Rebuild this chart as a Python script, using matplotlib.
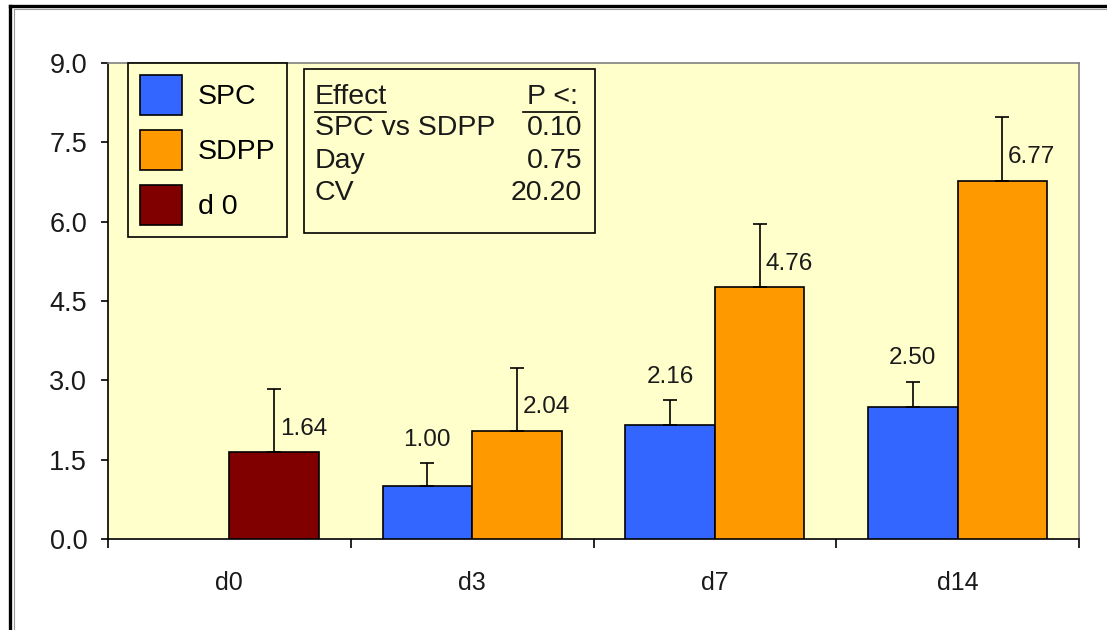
import numpy as np
import matplotlib
matplotlib.use("Agg")
import matplotlib.pyplot as plt
from matplotlib.patches import Rectangle
from matplotlib.lines import Line2D

plt.rcParams['font.family'] = ['Liberation Sans', 'DejaVu Sans']

# ---- data -------------------------------------------------------------
categories = ['d0', 'd3', 'd7', 'd14']
spc_days = [1, 2, 3]
spc_values = [1.00, 2.16, 2.50]
spc_errors = [0.43, 0.46, 0.47]
sdpp_days = [1, 2, 3]
sdpp_values = [2.04, 4.76, 6.77]
sdpp_errors = [1.20, 1.20, 1.21]
d0_days = [0]
d0_values = [1.64]
d0_errors = [1.20]

series_names = ['SPC', 'SDPP', 'd 0']
effect_rows = ['SPC vs SDPP', 'Day', 'CV']
effect_p = ['0.10', '0.75', '20.20']
y_ticks = [0.0, 1.5, 3.0, 4.5, 6.0, 7.5, 9.0]

# ---- style ------------------------------------------------------------
C_SPC = '#3366FF'
C_SDPP = '#FF9900'
C_D0 = '#800000'
C_BG = '#FFFFCC'
TXT = '#1a1a1a'
W = 0.369

fig = plt.figure(figsize=(11.07, 6.30), dpi=100)
fig.patch.set_facecolor('white')
ax = fig.add_axes([108 / 1107, 1 - 539 / 630, (1079 - 108) / 1107, (539 - 63) / 630])
ax.set_facecolor(C_BG)

x_spc = np.array(spc_days) - W / 2
x_sdpp = np.array(sdpp_days) + W / 2
x_d0 = np.array(d0_days) + W / 2

err_kw = dict(ecolor='black', elinewidth=1.2, capsize=5, capthick=1.2)
bar_kw = dict(edgecolor='black', linewidth=1.2, zorder=3)
b_spc = ax.bar(x_spc, spc_values, W, color=C_SPC,
               yerr=[np.zeros(len(spc_errors)), spc_errors], error_kw=err_kw, **bar_kw)
b_sdpp = ax.bar(x_sdpp, sdpp_values, W, color=C_SDPP,
                yerr=[np.zeros(len(sdpp_errors)), sdpp_errors], error_kw=err_kw, **bar_kw)
b_d0 = ax.bar(x_d0, d0_values, W, color=C_D0,
              yerr=[np.zeros(len(d0_errors)), d0_errors], error_kw=err_kw, **bar_kw)

# value labels
lab_fs = 17.5
for x, v, e in zip(x_spc, spc_values, spc_errors):
    ax.annotate(f'{v:.2f}', (x, v + e), xytext=(0, 17), textcoords='offset points',
                ha='center', va='center', fontsize=lab_fs, color=TXT)
for x, v in zip(list(x_d0) + list(x_sdpp), list(d0_values) + list(sdpp_values)):
    ax.annotate(f'{v:.2f}', (x, v), xytext=(4, 17), textcoords='offset points',
                ha='left', va='center', fontsize=lab_fs, color=TXT)

# axes
ax.set_xlim(-0.5, len(categories) - 0.5)
ax.set_ylim(0, 9.0)
ax.set_yticks(y_ticks)
ax.set_yticklabels([f'{t:.1f}' for t in y_ticks])
ax.tick_params(axis='y', length=5, width=1.2, direction='out', pad=10,
               labelsize=19.5, labelcolor=TXT)
ax.set_xticks(range(len(categories)))
ax.set_xticklabels(categories)
ax.set_xticks(np.arange(-0.5, len(categories)), minor=True)
ax.tick_params(axis='x', which='major', length=0, pad=23, labelsize=18, labelcolor=TXT)
ax.tick_params(axis='x', which='minor', length=6.5, width=1.2, direction='out')
for side in ('top', 'right'):
    ax.spines[side].set_color('#808080')
    ax.spines[side].set_linewidth(1.2)
for side in ('left', 'bottom'):
    ax.spines[side].set_color('black')
    ax.spines[side].set_linewidth(1.2)

# legend
leg = fig.legend([b_spc, b_sdpp, b_d0], series_names,
                 loc='upper left', bbox_to_anchor=(128 / 1107, 1 - 63 / 630),
                 bbox_transform=fig.transFigure, borderaxespad=0,
                 fontsize=20.5, handlelength=1.47, handleheight=1.79,
                 labelspacing=0.52, handletextpad=0.56, borderpad=0.42,
                 fancybox=False, frameon=True)
leg.get_frame().set_facecolor(C_BG)
leg.get_frame().set_edgecolor('black')
leg.get_frame().set_linewidth(1.2)
leg.get_frame().set_alpha(1)
for h in leg.legend_handles:
    h.set_edgecolor('black')
    h.set_linewidth(1.2)

# effects box
def fx(px):
    return px / 1107

def fy(py):
    return 1 - py / 630

fig.patches.append(Rectangle((fx(304), fy(233)), fx(595) - fx(304), fy(69) - fy(233),
                             transform=fig.transFigure, facecolor=C_BG,
                             edgecolor='black', linewidth=1.2, zorder=5))
box_fs = 20.5
fig.text(fx(315), fy(97), 'Effect', fontsize=box_fs, ha='left', va='center', color=TXT, zorder=6)
fig.text(fx(578), fy(97), 'P <:', fontsize=box_fs, ha='right', va='center', color=TXT, zorder=6)
fig.lines.append(Line2D([fx(315), fx(386)], [fy(112), fy(112)], transform=fig.transFigure,
                        color='black', linewidth=1.2, zorder=6))
fig.lines.append(Line2D([fx(523), fx(577)], [fy(112), fy(112)], transform=fig.transFigure,
                        color='black', linewidth=1.2, zorder=6))
for i, (name, p) in enumerate(zip(effect_rows, effect_p)):
    yy = 128 + 32.5 * i
    fig.text(fx(315), fy(yy), name, fontsize=box_fs, ha='left', va='center', color=TXT, zorder=6)
    fig.text(fx(582), fy(yy), p, fontsize=box_fs, ha='right', va='center', color=TXT, zorder=6)

# outer frame (left and top edges)
for coords, col, lw in [
    (([fx(10), fx(10)], [0, fy(5.5)]), 'black', 2.4),
    (([fx(10), 1.0], [fy(5.5), fy(5.5)]), 'black', 2.4),
    (([fx(13.5), fx(13.5)], [0, fy(9)]), '#9a9a9a', 0.8),
    (([fx(13.5), 1.0], [fy(9), fy(9)]), '#9a9a9a', 0.8),
]:
    fig.lines.append(Line2D(coords[0], coords[1], transform=fig.transFigure,
                            color=col, linewidth=lw))

fig.savefig('out.png', dpi=100, facecolor='white')
